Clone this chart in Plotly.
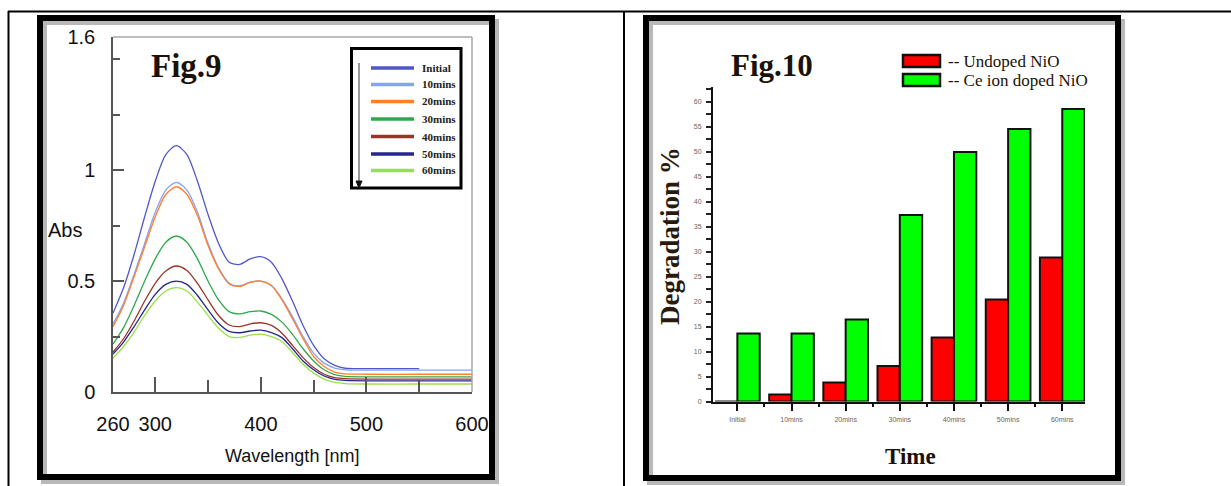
import plotly.graph_objects as go

W, H = 1231, 486

# ---------------- Fig.9 data (UV-Vis spectra) ----------------
wavelength = [260, 270, 280, 290, 300, 310, 320, 330, 340, 350, 360, 370, 380,
              390, 400, 410, 420, 430, 440, 450, 460, 470, 480, 500, 550, 600]
abs_initial = [0.356, 0.47, 0.62, 0.79, 0.95, 1.07, 1.11, 1.07, 0.95, 0.80, 0.67, 0.585, 0.575,
               0.60, 0.61, 0.585, 0.51, 0.41, 0.30, 0.21, 0.15, 0.12, 0.107, 0.105, 0.105, None]
abs_10 = [0.306, 0.40, 0.53, 0.67, 0.81, 0.91, 0.945, 0.91, 0.81, 0.67, 0.56, 0.49, 0.478,
          0.495, 0.50, 0.48, 0.42, 0.34, 0.25, 0.175, 0.13, 0.108, 0.10, 0.099, 0.099, 0.099]
abs_20 = [0.294, 0.39, 0.52, 0.655, 0.79, 0.89, 0.925, 0.89, 0.795, 0.66, 0.555, 0.487, 0.476,
          0.494, 0.50, 0.48, 0.415, 0.33, 0.24, 0.16, 0.115, 0.09, 0.082, 0.08, 0.08, 0.08]
abs_30 = [0.216, 0.29, 0.39, 0.50, 0.60, 0.675, 0.703, 0.675, 0.60, 0.50, 0.415, 0.362, 0.352,
          0.362, 0.365, 0.35, 0.315, 0.26, 0.195, 0.14, 0.10, 0.078, 0.07, 0.068, 0.068, 0.068]
abs_40 = [0.18, 0.24, 0.32, 0.41, 0.49, 0.545, 0.568, 0.548, 0.49, 0.415, 0.345, 0.302, 0.295,
          0.307, 0.312, 0.30, 0.265, 0.21, 0.155, 0.11, 0.08, 0.065, 0.06, 0.058, 0.058, 0.058]
abs_50 = [0.171, 0.225, 0.295, 0.37, 0.44, 0.485, 0.50, 0.485, 0.435, 0.37, 0.31, 0.273, 0.267,
          0.275, 0.279, 0.268, 0.245, 0.195, 0.14, 0.10, 0.072, 0.057, 0.052, 0.05, 0.05, 0.05]
abs_60 = [0.152, 0.205, 0.27, 0.345, 0.41, 0.455, 0.47, 0.455, 0.405, 0.345, 0.287, 0.25, 0.246,
          0.256, 0.261, 0.25, 0.228, 0.178, 0.125, 0.085, 0.058, 0.043, 0.038, 0.036, 0.036, 0.036]
series_names = ["Initial", "10mins", "20mins", "30mins", "40mins", "50mins", "60mins"]
series_values = [abs_initial, abs_10, abs_20, abs_30, abs_40, abs_50, abs_60]
series_colors = ["#5257c8", "#86a2f2", "#ff7f2a", "#2fa84c", "#9a3428", "#26268c", "#98e048"]

x_tickvals = [260, 300, 400, 500, 600]
x_minor_ticks = [350, 450, 550]
y_tickvals = [0, 0.5, 1, 1.6]
y_ticktext = ["0", "0.5", "1", "1.6"]
y_minor_ticks = [0.25, 0.75, 1.25, 1.5]

# ---------------- Fig.10 data (degradation %) ----------------
categories = ["Initial", "10mins", "20mins", "30mins", "40mins", "50mins", "60mins"]
undoped = [0, 1.4, 3.8, 7.1, 12.8, 20.4, 28.8]
doped = [13.6, 13.6, 16.4, 37.3, 49.9, 54.5, 58.5]
bar_names = ["-- Undoped NiO", "-- Ce ion doped NiO"]
bar_colors = ["#ff0000", "#00ff00"]
deg_tickvals = list(range(0, 61, 5))


def px(x):
    return x / W


def py(y):
    return 1 - y / H


sans = "Liberation Sans, Arial, sans-serif"
serif = "Liberation Serif, Times New Roman, serif"
ink = "#1a1206"

fig = go.Figure()

for name, vals, col in zip(series_names, series_values, series_colors):
    fig.add_trace(go.Scatter(x=wavelength, y=vals, name=name, mode="lines",
                             line=dict(color=col, width=1.3, shape="spline", smoothing=0.8),
                             xaxis="x", yaxis="y", showlegend=False, connectgaps=False))

xpos = list(range(len(categories)))
for name, vals, col in zip(bar_names, [undoped, doped], bar_colors):
    fig.add_trace(go.Bar(x=xpos, y=vals, name=name, marker=dict(color=col, line=dict(color="#111", width=2)),
                         xaxis="x2", yaxis="y2", showlegend=False))

fig.update_layout(
    width=W, height=H, autosize=False,
    margin=dict(l=0, r=0, t=0, b=0, autoexpand=False),
    showlegend=False,
    paper_bgcolor="white", plot_bgcolor="white",
    barmode="group", bargap=0.175, bargroupgap=0,
    xaxis=dict(domain=[px(113), px(472)], range=[260, 600], anchor="y", automargin=False,
               tickmode="array", tickvals=x_tickvals, ticks="inside", ticklen=15, tickwidth=1.5,
               tickcolor="#555", showline=True, linecolor="#555", linewidth=1.5,
               showgrid=False, zeroline=False,
               minor=dict(tickmode="array", tickvals=x_minor_ticks, ticks="inside", ticklen=12,
                          tickwidth=1.5, tickcolor="#555"),
               tickfont=dict(family=sans, size=20, color="#111"), ticklabelstandoff=13),
    yaxis=dict(domain=[py(392), py(37)], range=[0, 1.6], anchor="x", automargin=False,
               tickmode="array", tickvals=y_tickvals, ticktext=y_ticktext, ticks="inside",
               ticklen=11, tickwidth=1.5, tickcolor="#555", showline=True, linecolor="#555",
               linewidth=1.5, showgrid=False, zeroline=False,
               minor=dict(tickmode="array", tickvals=y_minor_ticks, ticks="inside", ticklen=7,
                          tickwidth=1.5, tickcolor="#555"),
               tickfont=dict(family=sans, size=20, color="#111"), ticklabelstandoff=12),
    xaxis2=dict(domain=[px(713), px(1085)], range=[-0.45, 6.42], anchor="y2", automargin=False,
                tickmode="array", tickvals=xpos, ticktext=categories, ticks="outside", ticklen=7,
                tickwidth=1.5, tickcolor="#111", showline=True, linecolor="#111", linewidth=2,
                showgrid=False, zeroline=False,
                minor=dict(tick0=0.5, dtick=1, ticks="outside", ticklen=3, tickwidth=1.5, tickcolor="#111"),
                tickfont=dict(family=sans, size=7, color="#666"),
                ticklabelstandoff=3),
    yaxis2=dict(domain=[py(401.5), py(86.5)], range=[0, 63], anchor="x2", automargin=False,
                tickmode="array", tickvals=deg_tickvals, ticks="outside", ticklen=5, tickwidth=1.5,
                tickcolor="#222", showline=True, linecolor="#111", linewidth=2,
                showgrid=False, zeroline=False,
                minor=dict(tick0=2.5, dtick=5, ticks="outside", ticklen=5, tickwidth=1.5, tickcolor="#222"),
                tickfont=dict(family=sans, size=7, color="#666"),
                ticklabelstandoff=3),
)

shapes = []
# table borders
shapes.append(dict(type="line", xref="paper", yref="paper", x0=px(8), x1=px(1231), y0=py(11.5), y1=py(11.5),
                   line=dict(color="#000", width=2)))
shapes.append(dict(type="line", xref="paper", yref="paper", x0=px(8.5), x1=px(8.5), y0=py(11), y1=py(486),
                   line=dict(color="#000", width=2)))
shapes.append(dict(type="line", xref="paper", yref="paper", x0=px(624), x1=px(624), y0=py(11), y1=py(486),
                   line=dict(color="#000", width=2)))
# chart frames with shadow
for (x0, y0, x1, y1) in [(40, 18, 492, 477), (646, 18, 1118, 478)]:
    shapes.append(dict(type="rect", xref="paper", yref="paper", x0=px(x0 + 4), x1=px(x1 + 4),
                       y0=py(y0 + 4), y1=py(y1 + 4), line=dict(color="#b8b8b8", width=6)))
    shapes.append(dict(type="rect", xref="paper", yref="paper", x0=px(x0), x1=px(x1),
                       y0=py(y0), y1=py(y1), line=dict(color="#000", width=6)))
# gray top/right frame of Fig.9 plot area
shapes.append(dict(type="line", xref="x domain", yref="y domain", x0=0, x1=1, y0=1, y1=1,
                   line=dict(color="#a8a8a8", width=1.5)))
shapes.append(dict(type="line", xref="x domain", yref="y domain", x0=1, x1=1, y0=0, y1=1,
                   line=dict(color="#a8a8a8", width=1.5)))
# Fig.9 legend box
shapes.append(dict(type="rect", xref="paper", yref="paper", x0=px(351.5), x1=px(461), y0=py(48.5), y1=py(188),
                   line=dict(color="#000", width=3), fillcolor="white"))
shapes.append(dict(type="line", xref="paper", yref="paper", x0=px(359), x1=px(359), y0=py(63), y1=py(182),
                   line=dict(color="#555", width=1.2)))
shapes.append(dict(type="path", xref="paper", yref="paper",
                   path=f"M {px(356)} {py(181)} L {px(362)} {py(181)} L {px(359)} {py(188)} Z",
                   fillcolor="#111", line=dict(color="#111", width=1)))
legend_y = [68, 84.5, 101.5, 119, 136.5, 154, 170.5]
annotations = []
for name, col, yy in zip(series_names, series_colors, legend_y):
    shapes.append(dict(type="line", xref="paper", yref="paper", x0=px(371), x1=px(414), y0=py(yy), y1=py(yy),
                       line=dict(color=col, width=3.5)))
    annotations.append(dict(text=name, xref="paper", yref="paper", x=px(420), y=py(yy), xanchor="left",
                            yanchor="middle", showarrow=False,
                            font=dict(family=serif, size=11, color="#222", weight="bold")))
# Fig.10 legend
for name, col, (ya, yb) in zip(bar_names, bar_colors, [(55, 67), (74, 86)]):
    shapes.append(dict(type="rect", xref="paper", yref="paper", x0=px(903), x1=px(940), y0=py(ya), y1=py(yb),
                       fillcolor=col, line=dict(color="#111", width=2.5)))
    annotations.append(dict(text=name, xref="paper", yref="paper", x=px(946), y=py((ya + yb) / 2 + 0.5),
                            xanchor="left", yanchor="middle", showarrow=False,
                            font=dict(family=serif, size=17, color=ink)))

annotations += [
    dict(text="Fig.9", xref="paper", yref="paper", x=px(149), y=py(66), xanchor="left", yanchor="middle",
         showarrow=False, font=dict(family=serif, size=33, color=ink, weight="bold")),
    dict(text="Fig.10", xref="paper", yref="paper", x=px(729), y=py(65), xanchor="left", yanchor="middle",
         showarrow=False, font=dict(family=serif, size=31, color=ink, weight="bold")),
    dict(text="Abs", xref="paper", yref="paper", x=px(46), y=py(230), xanchor="left", yanchor="middle",
         showarrow=False, font=dict(family=sans, size=20, color="#111")),
    dict(text="Wavelength [nm]", xref="paper", yref="paper", x=px(292), y=py(456), xanchor="center",
         yanchor="middle", showarrow=False, font=dict(family=sans, size=18, color="#111")),
    dict(text="Degradation %", xref="paper", yref="paper", x=px(670), y=py(236), xanchor="center",
         yanchor="middle", showarrow=False, textangle=-90,
         font=dict(family=serif, size=27, color="#2a1a0c", weight="bold")),
    dict(text="Time", xref="paper", yref="paper", x=px(910), y=py(456), xanchor="center", yanchor="middle",
         showarrow=False, font=dict(family=serif, size=23, color=ink, weight="bold")),
]

fig.update_layout(shapes=shapes, annotations=annotations)
fig.write_html("out.html", config={"displayModeBar": False},
               post_script="document.body.style.margin='0';document.body.style.overflow='hidden';")
